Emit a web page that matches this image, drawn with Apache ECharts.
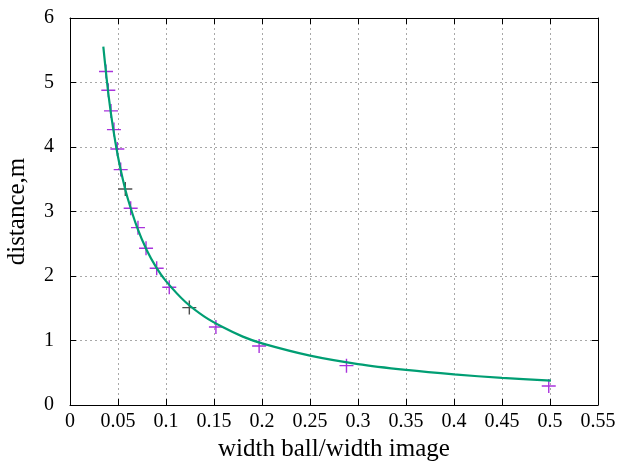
<!DOCTYPE html>
<html>
<head>
<meta charset="utf-8">
<script src="https://cdn.jsdelivr.net/npm/echarts@6/dist/echarts.min.js"></script>
<style>
html,body{margin:0;padding:0;background:#fff;}
#chart{width:619px;height:461px;}
</style>
</head>
<body>
<div id="chart"></div>
<script>
// Axis tick labels
const xTickLabels = ['0','0.05','0.1','0.15','0.2','0.25','0.3','0.35','0.4','0.45','0.5','0.55'];
const yTickLabels = ['0','1','2','3','4','5','6'];

// Measured points (purple "+")
const measX = [0.0375, 0.0399, 0.0427, 0.0458, 0.0493, 0.0528, 0.0632, 0.0708, 0.0792, 0.0903, 0.1034, 0.152, 0.197, 0.288, 0.4987];
const measY = [5.17, 4.88, 4.56, 4.27, 3.97, 3.65, 3.05, 2.75, 2.43, 2.12, 1.825, 1.21, 0.915, 0.61, 0.295];

// Measured points drawn dark
const darkX = [0.0576, 0.1243];
const darkY = [3.35, 1.51];

// Fitted curve (green)
const fitX = [0.0347, 0.04, 0.045, 0.05, 0.055, 0.06, 0.07, 0.08, 0.09, 0.10, 0.12, 0.14, 0.16, 0.18, 0.20, 0.25, 0.30, 0.35, 0.40, 0.45, 0.501];
const fitY = [5.555, 4.82, 4.28, 3.85, 3.50, 3.21, 2.75, 2.40, 2.13, 1.92, 1.60, 1.37, 1.20, 1.06, 0.955, 0.765, 0.635, 0.545, 0.475, 0.42, 0.377];

const pair = (xs, ys) => xs.map((x, i) => [x, ys[i]]);
const plusPath = 'path://M5.4,0h1.2v12h-1.2z M0,5.4h12v1.2h-12z';
const FONT = '"Liberation Serif", "DejaVu Serif", serif';

const chart = echarts.init(document.getElementById('chart'), null, {renderer: 'canvas'});
const gridLine = {show: true, lineStyle: {color: '#a8a8a8', type: [2, 3], width: 1}};
chart.setOption({
  animation: false,
  backgroundColor: '#fff',
  grid: {left: 70, right: 21, top: 18, bottom: 56, containLabel: false, outerBoundsMode: 'none'},
  xAxis: [{
    type: 'value', min: 0, max: 0.55, interval: 0.05, position: 'bottom',
    axisLine: {show: true, onZero: false, lineStyle: {color: '#000', width: 1}},
    axisTick: {show: true, inside: true, length: 6, lineStyle: {color: '#000'}},
    axisLabel: {color: '#000', fontFamily: FONT, fontSize: 20, margin: 7,
      formatter: v => xTickLabels[Math.round(v / 0.05)]},
    splitLine: gridLine,
    name: 'width ball/width image', nameLocation: 'middle', nameGap: 31,
    nameTextStyle: {color: '#000', fontFamily: FONT, fontSize: 25}
  }, {
    type: 'value', min: 0, max: 0.55, interval: 0.05, position: 'top',
    axisLine: {show: true, onZero: false, lineStyle: {color: '#000', width: 1}},
    axisTick: {show: true, inside: true, length: 6, lineStyle: {color: '#000'}},
    axisLabel: {show: false}, splitLine: {show: false}
  }],
  yAxis: [{
    type: 'value', min: 0, max: 6, interval: 1, position: 'left',
    axisLine: {show: true, onZero: false, lineStyle: {color: '#000', width: 1}},
    axisTick: {show: true, inside: true, length: 6, lineStyle: {color: '#000'}},
    axisLabel: {color: '#000', fontFamily: FONT, fontSize: 20, margin: 16,
      formatter: v => yTickLabels[Math.round(v)]},
    splitLine: gridLine,
    name: 'distance,m', nameLocation: 'middle', nameGap: 40,
    nameTextStyle: {color: '#000', fontFamily: FONT, fontSize: 25}
  }, {
    type: 'value', min: 0, max: 6, interval: 1, position: 'right',
    axisLine: {show: true, onZero: false, lineStyle: {color: '#000', width: 1}},
    axisTick: {show: true, inside: true, length: 6, lineStyle: {color: '#000'}},
    axisLabel: {show: false}, splitLine: {show: false}
  }],
  series: [{
    type: 'scatter', xAxisIndex: 0, yAxisIndex: 0,
    data: pair(measX, measY),
    symbol: plusPath, symbolSize: 14,
    itemStyle: {color: '#9400d3', opacity: 0.8}, z: 2
  }, {
    type: 'scatter', xAxisIndex: 0, yAxisIndex: 0,
    data: pair(darkX, darkY),
    symbol: plusPath, symbolSize: 14,
    itemStyle: {color: '#222222'}, z: 2
  }, {
    type: 'line', xAxisIndex: 0, yAxisIndex: 0,
    data: pair(fitX, fitY),
    smooth: 0.3, showSymbol: false, symbol: 'none',
    lineStyle: {color: '#009e73', width: 2.2}, z: 3
  }]
});
</script>
</body>
</html>
